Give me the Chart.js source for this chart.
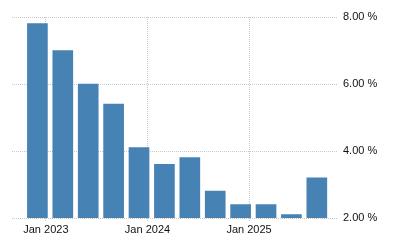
<!DOCTYPE html>
<html>
<head>
<meta charset="utf-8">
<script src="https://cdn.jsdelivr.net/npm/chart.js@4.4.1/dist/chart.umd.min.js"></script>
<style>
  body { margin: 0; background: #fff; }
  #wrap { width: 400px; height: 250px; }
</style>
</head>
<body>
<div id="wrap"><canvas id="grafico" width="400" height="250"></canvas></div>
<script>
// quarters (year-month) and the rate for each one
const periods = ['2022-12', '2023-03', '2023-06', '2023-09', '2023-12', '2024-03',
                 '2024-06', '2024-09', '2024-12', '2025-03', '2025-06', '2025-09'];
const values = [7.8, 7.0, 6.0, 5.4, 4.1, 3.6, 3.8, 2.8, 2.4, 2.4, 2.1, 3.2];
const xTickLabels = ['Jan 2023', 'Jan 2024', 'Jan 2025'];
const yTicks = [2, 4, 6, 8];

// months counted from Jan 2023
const toMonth = p => {
    const [y, m] = p.split('-').map(Number);
    return (y - 2023) * 12 + (m - 1);
};
const xTicks = xTickLabels.map(l => toMonth(l.slice(4) + '-01'));

const fonte = { family: '"Liberation Sans", Arial, sans-serif', size: 11 };
const corGrade = '#c8c8c8';

const ctx = document.getElementById('grafico').getContext('2d');
const grafico = new Chart(ctx, {
    type: 'bar',
    data: {
        datasets: [{
            data: periods.map((p, i) => ({ x: toMonth(p), y: values[i] })),
            backgroundColor: '#4682b4',
            borderWidth: 0,
            barThickness: 20
        }]
    },
    options: {
        responsive: false,
        animation: false,
        layout: { padding: { left: 12, top: 17, right: 0, bottom: 0 } },
        plugins: {
            legend: { display: false },
            tooltip: { enabled: false }
        },
        scales: {
            x: {
                type: 'linear',
                min: -4,
                max: 34.5,
                offset: false,
                afterBuildTicks: s => { s.ticks = xTicks.map(v => ({ value: v })); },
                afterFit: s => { s.height = 32; },
                ticks: {
                    font: fonte,
                    color: '#111',
                    padding: 1,
                    maxRotation: 0,
                    autoSkip: false,
                    callback: (v) => xTickLabels[xTicks.indexOf(v)]
                },
                grid: { offset: false, color: corGrade, tickLength: 4, tickBorderDash: [1, 1] },
                border: { display: false, dash: [1, 1] }
            },
            y: {
                position: 'right',
                min: 2,
                max: 8,
                afterBuildTicks: s => { s.ticks = yTicks.map(v => ({ value: v })); },
                afterFit: s => { s.width = 62; },
                ticks: {
                    font: fonte,
                    color: '#111',
                    padding: 5,
                    callback: v => v.toFixed(2) + ' %'
                },
                grid: { color: corGrade, drawTicks: false },
                border: { display: false, dash: [1, 1] }
            }
        }
    }
});
</script>
</body>
</html>
